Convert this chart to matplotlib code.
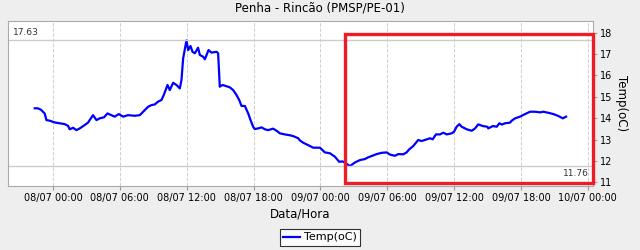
import numpy as np
import pandas as pd
import matplotlib
matplotlib.use('Agg')
import matplotlib.pyplot as plt
import matplotlib.dates as mdates
from matplotlib.patches import Rectangle

# Hours after 08/07 00:00 and temperature readings (oC).
hours = [-1.64, -1.37, -1.10, -0.75, -0.59, -0.30, 0.15, 0.60, 1.05, 1.35,
         1.50, 1.80, 2.10, 2.40, 2.85, 3.14, 3.59, 3.90, 4.19, 4.58,
         4.89, 5.25, 5.54, 5.90, 6.29, 6.74, 7.34, 7.79, 8.53, 8.84,
         9.13, 9.43, 9.74, 9.94, 10.28, 10.48, 10.78, 11.08, 11.38, 11.53,
         11.68, 11.98, 12.13, 12.34, 12.52, 12.73, 13.02, 13.18, 13.47, 13.63,
         13.96, 14.23, 14.68, 14.82, 14.97, 15.22, 15.51, 15.87, 16.17, 16.47,
         16.71, 16.92, 17.22, 17.52, 17.73, 17.96, 18.11, 18.41, 18.72, 19.01,
         19.31, 19.76, 20.07, 20.36, 20.81, 21.26, 21.56, 22.01, 22.16, 22.46,
         22.90, 23.35, 23.96, 24.40, 24.85, 25.30, 25.69, 25.99, 26.29, 26.65,
         27.10, 27.55, 28.00, 28.29, 28.60, 29.05, 29.50, 29.95, 30.24, 30.69,
         30.99, 31.44, 31.74, 31.95, 32.34, 32.78, 33.09, 33.54, 33.84, 34.08,
         34.37, 34.73, 35.03, 35.34, 35.78, 35.99, 36.23, 36.47, 36.68, 37.13,
         37.58, 37.88, 38.17, 38.57, 38.98, 39.07, 39.47, 39.83, 40.06, 40.28,
         40.57, 41.02, 41.17, 41.47, 41.92, 42.37, 42.82, 43.27, 43.71, 44.01,
         44.46, 44.91, 45.36, 45.76, 46.05]
temps = [14.46, 14.46, 14.40, 14.22, 13.91, 13.88, 13.80, 13.76, 13.72, 13.64,
         13.48, 13.55, 13.44, 13.52, 13.68, 13.79, 14.14, 13.91, 13.99, 14.04,
         14.22, 14.14, 14.07, 14.19, 14.07, 14.14, 14.11, 14.14, 14.53, 14.61,
         14.64, 14.77, 14.85, 15.08, 15.55, 15.31, 15.65, 15.55, 15.39, 15.78,
         16.79, 17.63, 17.18, 17.37, 17.10, 17.03, 17.29, 16.95, 16.87, 16.75,
         17.18, 17.06, 17.10, 17.03, 15.47, 15.55, 15.50, 15.44, 15.31, 15.08,
         14.85, 14.57, 14.57, 14.22, 13.91, 13.60, 13.49, 13.52, 13.57, 13.48,
         13.44, 13.51, 13.41, 13.29, 13.24, 13.20, 13.16, 13.06, 12.96, 12.85,
         12.74, 12.62, 12.62, 12.40, 12.36, 12.20, 11.96, 11.98, 11.89, 11.76,
         11.93, 12.04, 12.09, 12.17, 12.23, 12.32, 12.38, 12.40, 12.30, 12.24,
         12.32, 12.31, 12.40, 12.53, 12.70, 12.98, 12.93, 13.01, 13.06, 13.01,
         13.24, 13.24, 13.32, 13.24, 13.29, 13.36, 13.60, 13.72, 13.60, 13.48,
         13.41, 13.52, 13.71, 13.63, 13.60, 13.52, 13.63, 13.60, 13.76, 13.70,
         13.76, 13.79, 13.88, 13.99, 14.07, 14.19, 14.30, 14.30, 14.27, 14.30,
         14.25, 14.19, 14.10, 13.99, 14.07]

start = pd.Timestamp('2019-07-08 00:00')
times = start + pd.to_timedelta(hours, unit='h')

t_max = max(temps)
t_min = min(temps)

# highlighted window (red box), hours after 08/07 00:00
box_start = 26.2
box_end = 48.45
box_low, box_high = 10.95, 17.93

fig = plt.figure(figsize=(6.4, 2.5), dpi=100, facecolor='#eeeeee')
ax = fig.add_axes([0.0125, 0.256, 0.9141, 0.661])
ax.set_facecolor('white')

ax.plot(times, temps, color='#0000ff', lw=1.6, label='Temp(oC)')

ax.axhline(t_max, color='#cccccc', lw=1)
ax.axhline(t_min, color='#cccccc', lw=1)
ax.text(0.008, t_max + 0.15, '%.2f' % t_max, transform=ax.get_yaxis_transform(),
        fontsize=6.5, ha='left', va='bottom', color='#333333')
ax.text(0.992, t_min - 0.15, '%.2f' % t_min, transform=ax.get_yaxis_transform(),
        fontsize=6.5, ha='right', va='top', color='#333333')

ax.set_xlim(start + pd.Timedelta(hours=-4.04), start + pd.Timedelta(hours=48.47))
ax.set_ylim(10.83, 18.55)

ax.xaxis.set_major_locator(mdates.HourLocator(byhour=[0, 6, 12, 18]))
ax.xaxis.set_major_formatter(mdates.DateFormatter('%d/%m %H:%M'))
ax.yaxis.tick_right()
ax.yaxis.set_label_position('right')
ax.set_yticks(range(11, 19))
ax.tick_params(axis='both', labelsize=7, color='#999999', length=3, pad=2)
ax.grid(axis='x', color='#d0d0d0', ls='--', lw=0.7)
for s in ax.spines.values():
    s.set_color('#aaaaaa')

ax.set_xlabel('Data/Hora', fontsize=8.5, labelpad=3)
ax.set_ylabel('Temp(oC)', fontsize=8.5, rotation=270, labelpad=11)
fig.text(0.5, 0.968, 'Penha - Rincão (PMSP/PE-01)', ha='center', va='center', fontsize=8.5)

ax.add_patch(Rectangle((mdates.date2num(start + pd.Timedelta(hours=box_start)), box_low),
                       (box_end - box_start) / 24.0, box_high - box_low,
                       fill=False, edgecolor='#ee1c24', lw=2.4, clip_on=False, zorder=5))

leg = fig.legend(loc='center', bbox_to_anchor=(0.5, 0.05), fontsize=8,
                 frameon=True, fancybox=False, handlelength=1.5,
                 borderpad=0.3, handletextpad=0.4, edgecolor='black')
leg.get_frame().set_linewidth(0.8)

fig.savefig('out.png', dpi=100, facecolor=fig.get_facecolor())
